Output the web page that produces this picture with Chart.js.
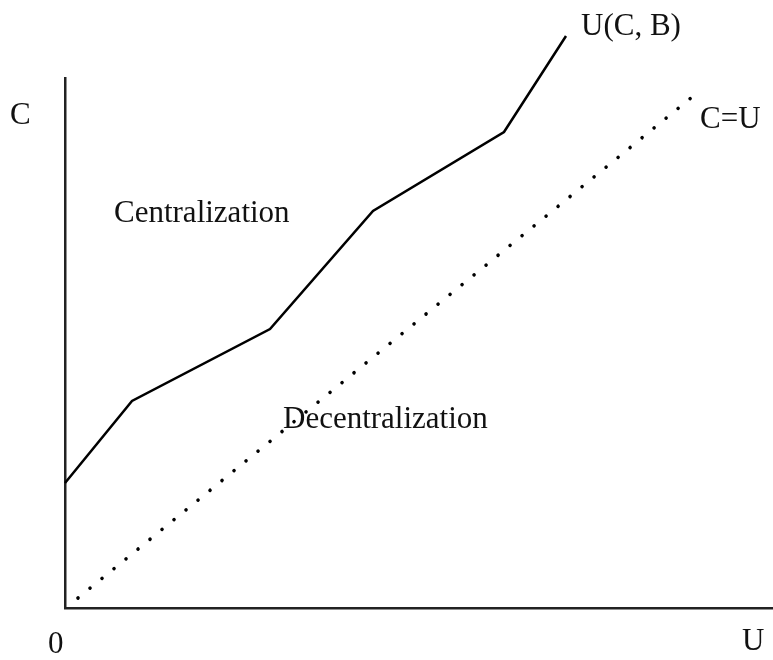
<!DOCTYPE html>
<html>
<head>
<meta charset="utf-8">
<script src="https://cdn.jsdelivr.net/npm/chart.js@4/dist/chart.umd.min.js"></script>
<style>
  html, body { margin: 0; padding: 0; background: #fff; }
  #wrap { width: 773px; height: 660px; }
</style>
</head>
<body>
<div id="wrap"><canvas id="graf"></canvas></div>
<script>
// curva U(C, B) (tramos rectos)
const curvaU = [0, 6.7, 20.5, 30.8, 43.9, 50.1];
const curvaC = [12.5, 20.7, 27.9, 39.7, 47.6, 57.2];
// recta C = U (punteada)
const igualU = [1.3, 62.7];
const igualC = [1.0, 51.1];

const etiquetas = ['C', '0', 'U', 'Centralization', 'Decentralization', 'U(C, B)', 'C=U'];

const toPts = (xs, ys) => xs.map((x, i) => ({ x: x, y: ys[i] }));

// textos del grafico
const textos = {
    id: 'textos',
    afterDraw(chart) {
        const ctx = chart.ctx;
        const pos = [[10, 124], [48, 653], [742, 650], [114, 222], [283, 428], [581, 35], [700, 128]];
        ctx.save();
        ctx.fillStyle = '#111';
        ctx.font = '31px "Liberation Serif", "Times New Roman", serif';
        ctx.textBaseline = 'alphabetic';
        etiquetas.forEach((t, i) => ctx.fillText(t, pos[i][0], pos[i][1]));
        ctx.restore();
    }
};

const ctx = document.getElementById('graf').getContext('2d');
new Chart(ctx, {
    type: 'line',
    data: {
        datasets: [{
            data: toPts(curvaU, curvaC),
            borderColor: '#000',
            borderWidth: 2.5,
            pointRadius: 0,
            fill: false,
            tension: 0,
            clip: false
        }, {
            data: toPts(igualU, igualC),
            borderColor: '#000',
            borderWidth: 3.6,
            borderDash: [0.01, 15.48],
            borderCapStyle: 'round',
            pointRadius: 0,
            fill: false,
            tension: 0,
            clip: false
        }]
    },
    options: {
        responsive: true,
        maintainAspectRatio: false,
        animation: false,
        layout: { padding: { left: 65, right: 0, top: 78, bottom: 52 } },
        plugins: { legend: { display: false }, tooltip: { enabled: false } },
        scales: {
            x: {
                type: 'linear', min: 0, max: 70.8,
                grid: { display: false },
                ticks: { display: false },
                border: { display: true, color: '#222', width: 2.5 },
                afterFit: s => { s.height = 0; }
            },
            y: {
                type: 'linear', min: 0, max: 53,
                grid: { display: false },
                ticks: { display: false },
                border: { display: true, color: '#222', width: 2.5 },
                afterFit: s => { s.width = 0; }
            }
        }
    },
    plugins: [textos]
});
</script>
</body>
</html>
